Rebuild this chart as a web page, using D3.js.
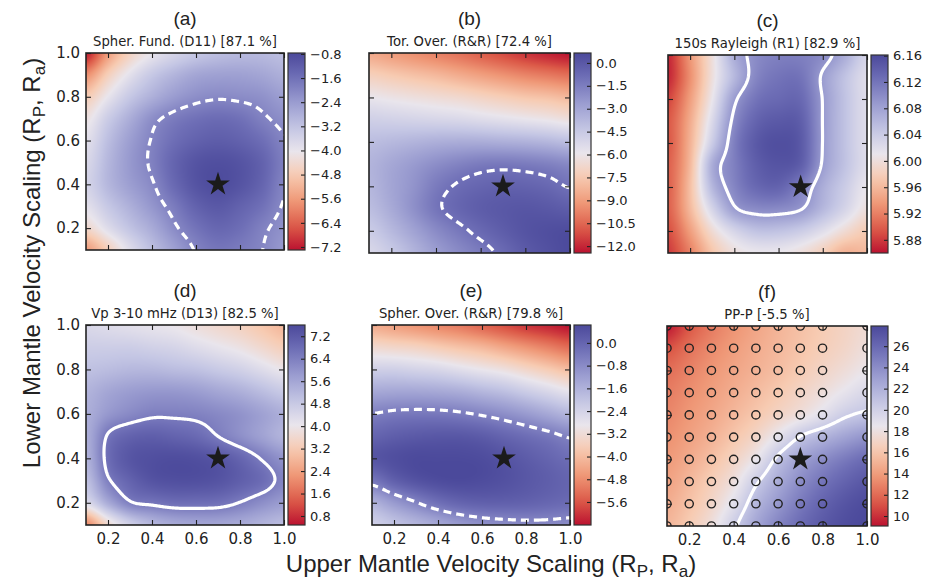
<!DOCTYPE html>
<html>
<head>
<meta charset="utf-8">
<script src="https://cdn.jsdelivr.net/npm/d3@7"></script>
<style>
  body { margin: 0; background: #fff; }
  text { fill: #222; }
</style>
</head>
<body>
<svg id="fig" width="934" height="585"></svg>
<script>
// grid nodes of every misfit map: x and y from 0.1 to 1.0
var gridX = [0.1, 0.2, 0.3, 0.4, 0.5, 0.6, 0.7, 0.8, 0.9, 1.0];
var gridY = [1.0, 0.9, 0.8, 0.7, 0.6, 0.5, 0.4, 0.3, 0.2, 0.1]; // row order of the value tables

var panelLetters = ["(a)", "(b)", "(c)", "(d)", "(e)", "(f)"];
var panelTitles = [
  "Spher. Fund. (D11) [87.1 %]",
  "Tor. Over. (R&R) [72.4 %]",
  "150s Rayleigh (R1) [82.9 %]",
  "Vp 3-10 mHz (D13) [82.5 %]",
  "Spher. Over. (R&R) [79.8 %]",
  "PP-P [-5.5 %]"
];

// colour bar ranges and ticks
var cbarDomains = [[-7.3, -0.77], [-12.45, 0.65], [5.86, 6.161], [0.48, 7.6], [-6.41, 0.63], [9.06, 27.9]];
var cbarTicks = [
  [-0.8, -1.6, -2.4, -3.2, -4.0, -4.8, -5.6, -6.4, -7.2],
  [0.0, -1.5, -3.0, -4.5, -6.0, -7.5, -9.0, -10.5, -12.0],
  [6.16, 6.12, 6.08, 6.04, 6.00, 5.96, 5.92, 5.88],
  [7.2, 6.4, 5.6, 4.8, 4.0, 3.2, 2.4, 1.6, 0.8],
  [0.0, -0.8, -1.6, -2.4, -3.2, -4.0, -4.8, -5.6],
  [26, 24, 22, 20, 18, 16, 14, 12, 10]
];
var cbarDecimals = [1, 1, 2, 1, 1, 0];

var contourLevels = [-2.0, -1.0, 6.09, 6.5, -0.6, 20.5];
var contourDashed = [true, true, false, false, true, false];

var starPoint = [0.7, 0.4];

// station-like circles of panel (f)
var circleX = [0.1, 0.2, 0.3, 0.4, 0.5, 0.6, 0.7, 0.8, 1.0];
var circleY = [0.1, 0.2, 0.3, 0.4, 0.5, 0.6, 0.7, 0.8, 0.9, 1.0];

var valsA = [
  [-7.2, -5.6, -4.6, -4.0, -3.6, -3.3, -3.1, -3.0, -3.0, -3.1],
  [-5.8, -4.7, -3.9, -3.3, -2.9, -2.6, -2.5, -2.5, -2.6, -2.8],
  [-4.8, -4.0, -3.3, -2.8, -2.4, -2.15, -2.05, -2.1, -2.2, -2.45],
  [-4.2, -3.4, -2.75, -2.15, -1.8, -1.6, -1.5, -1.6, -1.9, -2.15],
  [-3.9, -3.1, -2.45, -1.95, -1.55, -1.3, -1.2, -1.3, -1.55, -1.95],
  [-3.7, -2.95, -2.35, -1.9, -1.35, -1.0, -0.9, -1.0, -1.3, -1.85],
  [-3.6, -2.95, -2.45, -2.05, -1.45, -1.0, -0.85, -1.0, -1.35, -1.95],
  [-3.9, -3.3, -2.8, -2.3, -1.8, -1.3, -1.1, -1.3, -1.6, -2.05],
  [-4.5, -3.8, -3.2, -2.7, -2.1, -1.65, -1.4, -1.55, -1.9, -2.2],
  [-5.6, -4.7, -3.8, -3.1, -2.5, -1.95, -1.7, -1.8, -2.0, -2.35]
];
var valsB = [
  [-8.6, -9.0, -9.4, -9.8, -10.2, -10.7, -11.2, -11.7, -12.1, -12.4],
  [-7.2, -7.5, -7.8, -8.1, -8.5, -8.9, -9.3, -9.7, -10.0, -10.3],
  [-5.9, -6.1, -6.3, -6.5, -6.7, -7.0, -7.3, -7.6, -7.8, -8.1],
  [-4.8, -4.9, -5.0, -5.1, -5.2, -5.4, -5.6, -5.8, -6.0, -6.3],
  [-4.0, -3.8, -3.6, -3.4, -3.3, -3.3, -3.4, -3.5, -3.7, -4.0],
  [-3.6, -3.1, -2.6, -2.1, -1.7, -1.4, -1.3, -1.4, -1.6, -1.9],
  [-3.7, -3.0, -2.3, -1.4, -0.85, -0.55, -0.4, -0.45, -0.65, -1.05],
  [-4.0, -3.2, -2.2, -1.2, -0.6, -0.2, 0.0, 0.1, 0.0, -0.2],
  [-4.6, -3.8, -2.9, -2.0, -1.3, -0.7, -0.2, 0.2, 0.4, 0.5],
  [-5.2, -4.5, -3.6, -2.7, -2.0, -1.4, -0.75, -0.1, 0.3, 0.6]
];
var valsC = [
  [5.87, 5.935, 6.00, 6.07, 6.10, 6.11, 6.11, 6.10, 6.07, 6.03],
  [5.87, 5.93, 6.00, 6.06, 6.105, 6.12, 6.12, 6.085, 6.05, 6.02],
  [5.885, 5.94, 6.01, 6.085, 6.12, 6.13, 6.13, 6.088, 6.05, 6.02],
  [5.895, 5.95, 6.025, 6.10, 6.135, 6.145, 6.14, 6.088, 6.05, 6.02],
  [5.895, 5.955, 6.04, 6.11, 6.145, 6.155, 6.145, 6.088, 6.05, 6.02],
  [5.90, 5.96, 6.07, 6.11, 6.14, 6.15, 6.14, 6.085, 6.05, 6.02],
  [5.90, 5.965, 6.06, 6.105, 6.13, 6.135, 6.11, 6.07, 6.04, 6.01],
  [5.90, 5.96, 6.03, 6.085, 6.10, 6.10, 6.09, 6.06, 6.03, 6.00],
  [5.89, 5.94, 5.995, 6.03, 6.05, 6.05, 6.04, 6.02, 5.995, 5.975],
  [5.88, 5.92, 5.97, 6.00, 6.01, 6.01, 6.00, 5.98, 5.955, 5.96]
];
var valsD = [
  [4.4, 4.3, 4.2, 4.1, 4.0, 3.8, 3.6, 3.4, 3.1, 2.8],
  [4.7, 4.7, 4.7, 4.6, 4.5, 4.3, 4.1, 3.9, 3.6, 3.3],
  [5.0, 5.1, 5.2, 5.2, 5.1, 5.0, 4.8, 4.6, 4.3, 4.0],
  [5.3, 5.6, 5.8, 5.9, 5.9, 5.8, 5.6, 5.4, 5.1, 4.8],
  [5.4, 5.9, 6.2, 6.4, 6.4, 6.35, 6.2, 6.0, 5.7, 5.4],
  [5.4, 6.6, 7.0, 7.1, 7.0, 6.85, 6.5, 6.1, 5.7, 5.3],
  [5.3, 6.75, 7.3, 7.45, 7.5, 7.45, 7.3, 6.95, 6.45, 6.0],
  [5.0, 6.4, 7.0, 7.35, 7.45, 7.45, 7.35, 7.1, 6.8, 6.3],
  [4.3, 5.5, 6.4, 6.6, 6.75, 6.75, 6.7, 6.45, 6.1, 5.8],
  [2.0, 3.6, 4.6, 5.2, 5.5, 5.6, 5.6, 5.5, 5.3, 5.1]
];
var valsE = [
  [-4.3, -4.5, -4.7, -4.9, -5.1, -5.4, -5.7, -6.0, -6.2, -6.4],
  [-3.3, -3.4, -3.5, -3.7, -3.9, -4.1, -4.4, -4.7, -5.0, -5.3],
  [-2.3, -2.3, -2.4, -2.5, -2.7, -2.9, -3.1, -3.4, -3.7, -4.0],
  [-1.4, -1.35, -1.35, -1.4, -1.5, -1.7, -1.9, -2.2, -2.5, -2.8],
  [-0.57, -0.45, -0.41, -0.42, -0.5, -0.65, -0.85, -1.1, -1.4, -1.7],
  [0.0, 0.15, 0.25, 0.3, 0.3, 0.2, 0.0, -0.2, -0.4, -0.65],
  [0.35, 0.5, 0.6, 0.6, 0.6, 0.55, 0.4, 0.2, 0.0, -0.2],
  [-0.4, 0.1, 0.4, 0.55, 0.6, 0.55, 0.45, 0.3, 0.15, 0.0],
  [-1.6, -1.1, -0.65, -0.25, 0.0, 0.1, 0.1, 0.05, -0.05, -0.15],
  [-2.3, -2.0, -1.7, -1.4, -1.1, -0.9, -0.8, -0.75, -0.75, -0.8]
];
var valsF = [
  [9.3, 11.2, 12.6, 13.6, 14.4, 15.1, 15.7, 16.3, 16.9, 17.5],
  [11.0, 12.2, 13.2, 14.0, 14.7, 15.3, 15.9, 16.5, 17.1, 17.8],
  [12.1, 12.9, 13.7, 14.4, 15.0, 15.6, 16.3, 17.0, 17.7, 18.4],
  [12.7, 13.4, 14.1, 14.8, 15.5, 16.2, 17.0, 17.8, 18.7, 19.5],
  [13.1, 13.8, 14.5, 15.3, 16.1, 17.0, 17.9, 19.0, 20.3, 20.9],
  [13.5, 14.2, 15.0, 16.0, 17.1, 18.8, 20.7, 21.8, 22.8, 23.6],
  [13.9, 14.7, 15.7, 16.9, 18.5, 21.0, 22.8, 24.0, 25.0, 25.8],
  [14.3, 15.3, 16.5, 17.9, 20.3, 22.3, 24.0, 25.3, 26.3, 27.0],
  [14.8, 15.8, 17.1, 19.0, 21.6, 23.4, 25.0, 26.3, 27.2, 27.7],
  [15.2, 16.3, 17.8, 20.2, 22.6, 24.4, 25.8, 26.9, 27.6, 27.9]
];
var allVals = [valsA, valsB, valsC, valsD, valsE, valsF];

// red -> white -> purple-blue colour map
var cmapStops = [0, 0.12, 0.25, 0.38, 0.5, 0.62, 0.75, 0.88, 1];
var cmapColors = ["#bb1230", "#dc5a48", "#ef9877", "#f7cbb2", "#e9e5ec", "#c4c6e4", "#9a9cd0", "#6e6eb6", "#4b499b"];
var cmap = d3.scaleLinear().domain(cmapStops).range(cmapColors).interpolate(d3.interpolateRgb).clamp(true);

// layout of each panel (pixels)
var boxes = [
  {x: 86, y: 53, w: 198, h: 197},
  {x: 369, y: 53, w: 201, h: 200},
  {x: 668, y: 55, w: 199, h: 198},
  {x: 86, y: 325, w: 198, h: 200},
  {x: 372, y: 325, w: 198, h: 200},
  {x: 667, y: 326, w: 200, h: 200}
];

var svg = d3.select("#fig");
var defs = svg.append("defs");
var tickFont = "DejaVu Sans, sans-serif";
var labelFont = "Liberation Sans, Arial, sans-serif";

function cubic(p0, p1, p2, p3, t) {
  return p1 + 0.5 * t * (p2 - p0 + t * (2 * p0 - 5 * p1 + 4 * p2 - p3 + t * (3 * (p1 - p2) + p3 - p0)));
}
// smooth (bicubic) reading of a value table at fractional column / row
function sampleGrid(g, gx, gy) {
  gx = Math.max(0, Math.min(9, gx));
  gy = Math.max(0, Math.min(9, gy));
  var ix = Math.floor(gx), iy = Math.floor(gy);
  var tx = gx - ix, ty = gy - iy;
  function at(r, c) {
    r = Math.max(0, Math.min(9, r)); c = Math.max(0, Math.min(9, c));
    return g[r][c];
  }
  var r = [];
  for (var k = -1; k <= 2; k++) {
    r.push(cubic(at(iy + k, ix - 1), at(iy + k, ix), at(iy + k, ix + 1), at(iy + k, ix + 2), tx));
  }
  return cubic(r[0], r[1], r[2], r[3], ty);
}

boxes.forEach(function(b, p) {
  var vals = allVals[p];
  var dom = cbarDomains[p];
  var x = d3.scaleLinear().domain([0.1, 1.0]).range([b.x, b.x + b.w]);
  var y = d3.scaleLinear().domain([0.1, 1.0]).range([b.y + b.h, b.y]);
  var norm = d3.scaleLinear().domain(dom).range([0, 1]);
  var colourOf = function(v) { return cmap(norm(v)); };
  var colIdx = d3.scaleLinear().domain([gridX[0], gridX[9]]).range([0, 9]);
  var rowIdx = d3.scaleLinear().domain([gridY[0], gridY[9]]).range([0, 9]);

  // heat map as a bitmap
  var cv = document.createElement("canvas");
  cv.width = b.w; cv.height = b.h;
  var ctx = cv.getContext("2d");
  var img = ctx.createImageData(b.w, b.h);
  for (var j = 0; j < b.h; j++) {
    for (var i = 0; i < b.w; i++) {
      var v = sampleGrid(vals, colIdx(x.invert(b.x + i + 0.5)), rowIdx(y.invert(b.y + j + 0.5)));
      var c = d3.rgb(colourOf(v));
      var o = (j * b.w + i) * 4;
      img.data[o] = c.r; img.data[o + 1] = c.g; img.data[o + 2] = c.b; img.data[o + 3] = 255;
    }
  }
  ctx.putImageData(img, 0, 0);

  var clipId = "clip" + p;
  defs.append("clipPath").attr("id", clipId)
    .append("rect").attr("x", b.x).attr("y", b.y).attr("width", b.w).attr("height", b.h);

  var g = svg.append("g");
  g.append("image")
    .attr("href", cv.toDataURL())
    .attr("x", b.x).attr("y", b.y).attr("width", b.w).attr("height", b.h)
    .attr("preserveAspectRatio", "none");

  // contour of the level
  var N = 181, pad = 6, M = N + 2 * pad, per = (N - 1) / 9;
  var field = new Float64Array(M * M);
  for (var jj = 0; jj < M; jj++) {
    for (var ii = 0; ii < M; ii++) {
      if (ii === 0 || jj === 0 || ii === M - 1 || jj === M - 1) { field[jj * M + ii] = -1e6; continue; }
      field[jj * M + ii] = sampleGrid(vals, (ii - pad) / per, (jj - pad) / per);
    }
  }
  var cont = d3.contours().size([M, M]).thresholds([contourLevels[p]])(field);
  var proj = d3.geoTransform({
    point: function(cx, cy) {
      this.stream.point(x(colIdx.invert((cx - pad) / per)), y(rowIdx.invert((cy - pad) / per)));
    }
  });
  g.append("g").attr("clip-path", "url(#" + clipId + ")")
    .selectAll("path").data(cont).enter().append("path")
    .attr("d", d3.geoPath(proj))
    .attr("fill", "none")
    .attr("stroke", "#fff")
    .attr("stroke-width", 3.2)
    .attr("stroke-linejoin", "round")
    .attr("stroke-dasharray", contourDashed[p] ? "8,5" : null);

  // open circles in panel (f)
  if (p === 5) {
    var pts = [];
    circleY.forEach(function(cy) { circleX.forEach(function(cx) { pts.push([cx, cy]); }); });
    g.append("g").attr("clip-path", "url(#" + clipId + ")")
      .selectAll("circle").data(pts).enter().append("circle")
      .attr("cx", function(d) { return x(d[0]); })
      .attr("cy", function(d) { return y(d[1]); })
      .attr("r", 4.1)
      .attr("fill", "none")
      .attr("stroke", "#222")
      .attr("stroke-width", 1.4);
  }

  // star at preferred scaling
  g.append("path")
    .attr("d", d3.symbol().type(d3.symbolStar).size(175)())
    .attr("transform", "translate(" + x(starPoint[0]) + "," + y(starPoint[1]) + ")")
    .attr("fill", "#1b1b1b");

  // axes with inward ticks on all four sides
  var tv = [0.2, 0.4, 0.6, 0.8, 1.0];
  var showX = p >= 3, showY = p % 3 === 0;
  var axB = g.append("g").attr("transform", "translate(0," + (b.y + b.h) + ")")
    .call(d3.axisBottom(x).tickValues(tv).tickSize(-5).tickPadding(8)
      .tickFormat(showX ? d3.format(".1f") : ""));
  var axT = g.append("g").attr("transform", "translate(0," + b.y + ")")
    .call(d3.axisTop(x).tickValues(tv).tickSize(-5).tickFormat(""));
  var axL = g.append("g").attr("transform", "translate(" + b.x + ",0)")
    .call(d3.axisLeft(y).tickValues(tv).tickSize(-5).tickPadding(6)
      .tickFormat(showY ? d3.format(".1f") : ""));
  var axR = g.append("g").attr("transform", "translate(" + (b.x + b.w) + ",0)")
    .call(d3.axisRight(y).tickValues(tv).tickSize(-5).tickFormat(""));
  [axB, axT, axL, axR].forEach(function(a) {
    a.select(".domain").remove();
    a.selectAll("line").attr("stroke", "#222").attr("stroke-width", 1.1);
    a.selectAll("text").attr("font-family", tickFont).attr("font-size", 15).attr("fill", "#222");
  });

  g.append("rect")
    .attr("x", b.x).attr("y", b.y).attr("width", b.w).attr("height", b.h)
    .attr("fill", "none").attr("stroke", "#222").attr("stroke-width", 1.6);

  // titles
  var cxm = b.x + b.w / 2;
  g.append("text").attr("x", cxm).attr("y", b.y - 28)
    .attr("text-anchor", "middle").attr("font-family", labelFont).attr("font-size", 19)
    .text(panelLetters[p]);
  g.append("text").attr("x", cxm).attr("y", b.y - 7)
    .attr("text-anchor", "middle").attr("font-family", tickFont).attr("font-size", 13.2)
    .text(panelTitles[p]);

  // colour bar
  var cbx = b.x + b.w + 4, cbw = 17;
  var gradId = "grad" + p;
  var grad = defs.append("linearGradient").attr("id", gradId)
    .attr("x1", 0).attr("y1", 1).attr("x2", 0).attr("y2", 0);
  d3.range(0, 1.0001, 0.05).forEach(function(t) {
    grad.append("stop").attr("offset", t).attr("stop-color", cmap(t));
  });
  g.append("rect").attr("x", cbx).attr("y", b.y).attr("width", cbw).attr("height", b.h)
    .attr("fill", "url(#" + gradId + ")");
  var cy = d3.scaleLinear().domain(dom).range([b.y + b.h, b.y]);
  var dec = cbarDecimals[p];
  var axC = g.append("g").attr("transform", "translate(" + (cbx + cbw) + ",0)")
    .call(d3.axisRight(cy).tickValues(cbarTicks[p]).tickSize(-4).tickPadding(5)
      .tickFormat(function(d) { return d3.format("." + dec + "f")(d).replace("-", "\u2212"); }));
  axC.select(".domain").remove();
  axC.selectAll("line").attr("stroke", "#222").attr("stroke-width", 1.1);
  axC.selectAll("text").attr("font-family", tickFont).attr("font-size", 13).attr("fill", "#222");
  g.append("rect").attr("x", cbx).attr("y", b.y).attr("width", cbw).attr("height", b.h)
    .attr("fill", "none").attr("stroke", "#333").attr("stroke-width", 1.2);
});

// shared axis labels
function axisLabel(sel) {
  sel.attr("font-family", labelFont).attr("font-size", 24).attr("text-anchor", "middle");
  sel.append("tspan").text(sel.attr("data-main") + " (R");
  sel.append("tspan").attr("font-size", 17).attr("dy", 5).text("P");
  sel.append("tspan").attr("dy", -5).text(", R");
  sel.append("tspan").attr("font-size", 17).attr("dy", 5).text("a");
  sel.append("tspan").attr("dy", -5).text(")");
}
svg.append("text").attr("x", 491).attr("y", 572)
  .attr("data-main", "Upper Mantle Velocity Scaling").call(axisLabel);
svg.append("text").attr("transform", "translate(40,263) rotate(-90)")
  .attr("data-main", "Lower Mantle Velocity Scaling").call(axisLabel);
</script>
</body>
</html>
